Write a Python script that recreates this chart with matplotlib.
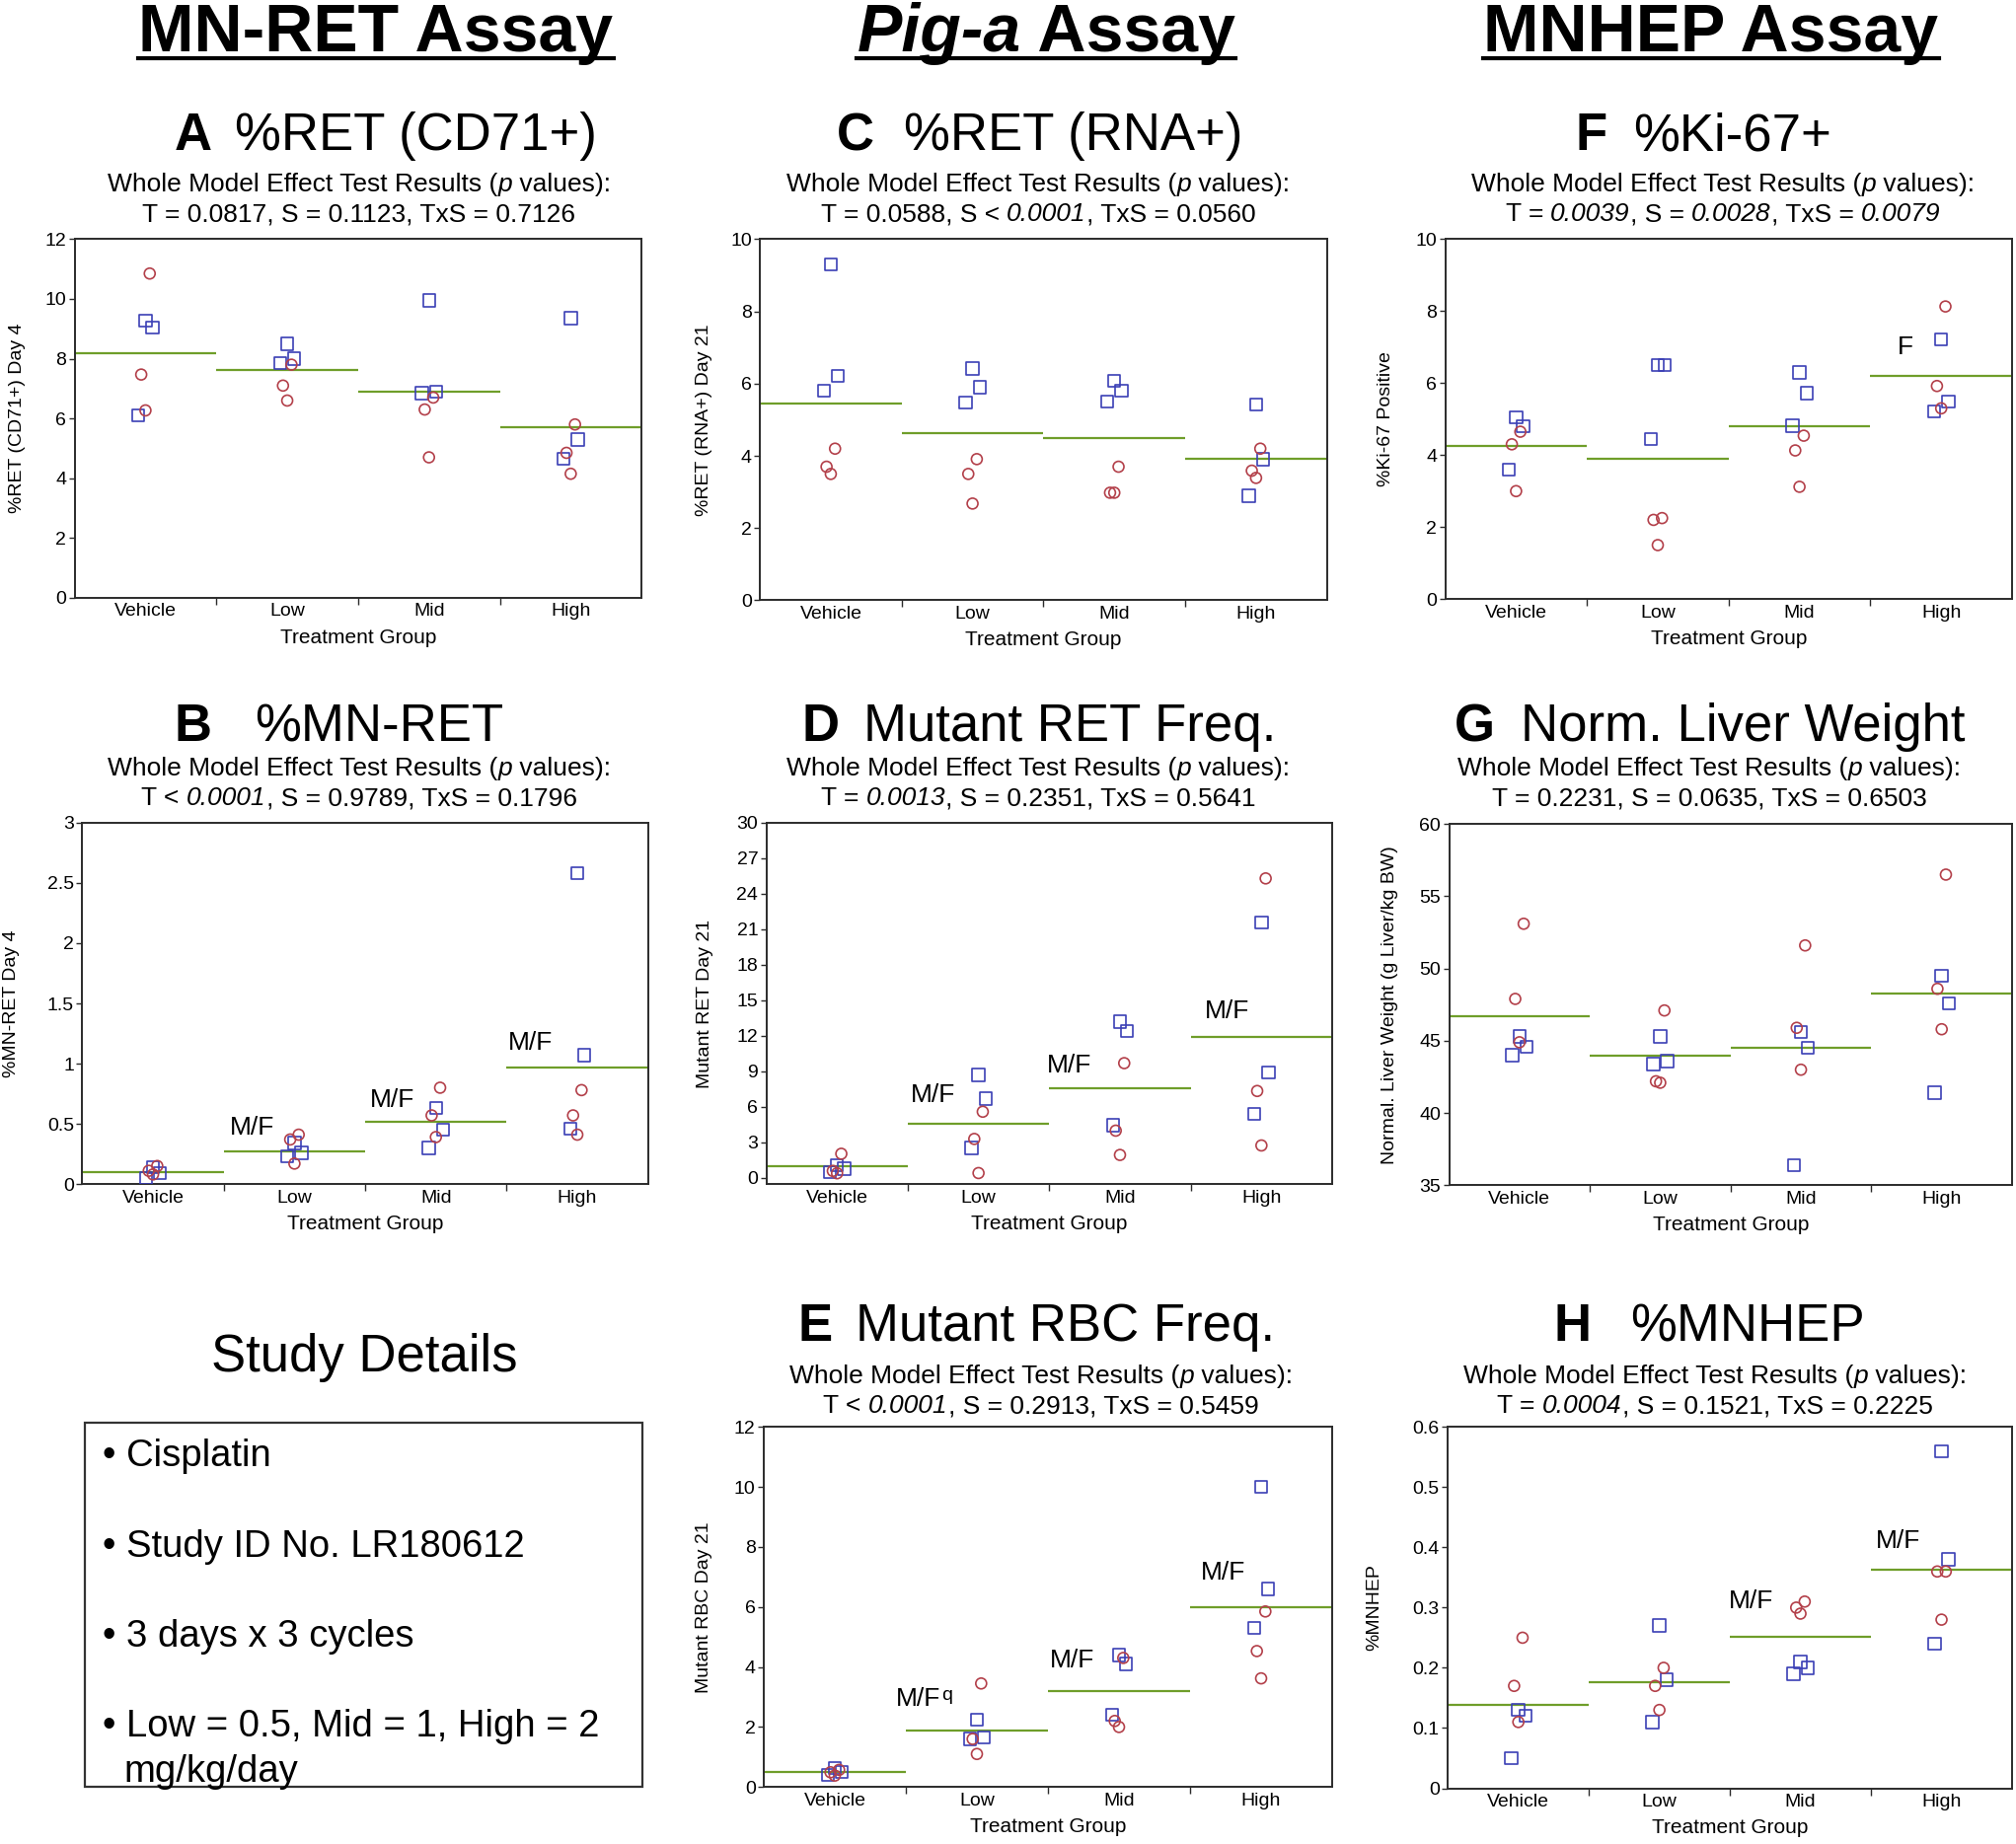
import matplotlib
matplotlib.use('Agg')
import matplotlib.pyplot as plt
from matplotlib.transforms import IdentityTransform
from matplotlib.lines import Line2D
from matplotlib.patches import Rectangle
from matplotlib.ticker import FuncFormatter

plt.rcParams['font.family'] = ['Liberation Sans', 'DejaVu Sans']

W, H, DPI = 2043, 1869, 100

groups = ['Vehicle', 'Low', 'Mid', 'High']

# ---------------- data (males = squares, females = circles, green = group mean)
a_male = [[9.27, 9.05, 6.10], [8.50, 8.00, 7.85], [9.95, 6.90, 6.85], [9.35, 5.30, 4.65]]
a_female = [[10.85, 7.47, 6.27], [7.80, 7.10, 6.60], [6.70, 6.30, 4.70], [5.80, 4.85, 4.15]]
a_mean = [8.18, 7.62, 6.90, 5.71]

b_male = [[0.14, 0.09, 0.05], [0.34, 0.26, 0.23], [0.63, 0.45, 0.30], [2.58, 1.07, 0.46]]
b_female = [[0.15, 0.11, 0.08], [0.41, 0.37, 0.17], [0.80, 0.57, 0.39], [0.78, 0.57, 0.41]]
b_mean = [0.10, 0.275, 0.52, 0.97]

c_male = [[9.30, 6.22, 5.80], [6.42, 5.90, 5.47], [6.07, 5.80, 5.50], [5.42, 3.91, 2.90]]
c_female = [[4.20, 3.70, 3.50], [3.91, 3.50, 2.68], [3.70, 2.98, 2.98], [4.20, 3.59, 3.39]]
c_mean = [5.46, 4.64, 4.50, 3.91]

d_male = [[1.1, 0.8, 0.5], [8.7, 6.7, 2.55], [13.2, 12.4, 4.45], [21.6, 8.9, 5.4]]
d_female = [[2.05, 0.6, 0.4], [5.6, 3.3, 0.42], [9.7, 4.0, 1.95], [25.3, 7.35, 2.75]]
d_mean = [1.03, 4.55, 7.6, 11.9]

e_male = [[0.63, 0.50, 0.40], [2.25, 1.65, 1.60], [4.40, 4.10, 2.40], [10.0, 6.60, 5.30]]
e_female = [[0.57, 0.49, 0.38], [3.45, 1.60, 1.10], [4.30, 2.20, 2.00], [5.85, 4.53, 3.62]]
e_mean = [0.51, 1.88, 3.20, 6.00]

f_male = [[5.05, 4.80, 3.60], [6.50, 6.50, 4.45], [6.30, 5.72, 4.82], [7.22, 5.49, 5.22]]
f_female = [[4.65, 4.30, 3.00], [2.25, 2.20, 1.50], [4.54, 4.13, 3.12], [8.13, 5.92, 5.30]]
f_mean = [4.25, 3.89, 4.79, 6.20]

g_male = [[45.3, 44.6, 44.0], [45.3, 43.6, 43.4], [45.6, 44.5, 36.4], [49.5, 47.6, 41.4]]
g_female = [[53.1, 47.9, 44.9], [47.1, 42.2, 42.1], [51.6, 45.9, 43.0], [56.5, 48.6, 45.8]]
g_mean = [46.7, 43.95, 44.5, 48.27]

h_male = [[0.13, 0.12, 0.05], [0.27, 0.18, 0.11], [0.21, 0.20, 0.19], [0.56, 0.38, 0.24]]
h_female = [[0.25, 0.17, 0.11], [0.20, 0.17, 0.13], [0.31, 0.30, 0.29], [0.36, 0.36, 0.28]]
h_mean = [0.139, 0.176, 0.251, 0.363]

# ---------------- styling
RED = '#b3404a'
BLUE = '#3b3fb5'
GREEN = '#6f9e2a'
SPINE = '#2b2b2b'
JIT_M = [0.0, 0.05, -0.05]
JIT_F = [0.03, -0.03, 0.0]

fig = plt.figure(figsize=(W / DPI, H / DPI), dpi=DPI)
fig.patch.set_facecolor('white')
renderer = fig.canvas.get_renderer()
PX = IdentityTransform()


def seg_width(s, size, style, weight):
    t = fig.text(0, 0, s + '|', fontsize=size, style=style, weight=weight, transform=PX)
    w1 = t.get_window_extent(renderer).width
    t.set_text('|')
    w2 = t.get_window_extent(renderer).width
    t.remove()
    return w1 - w2


def rich(xc, ybase, segs, size):
    widths = [seg_width(s, size, st, wt) for s, st, wt in segs]
    total = sum(widths)
    x = xc - total / 2
    x0 = x
    for (s, st, wt), w in zip(segs, widths):
        fig.text(x, H - ybase, s, fontsize=size, style=st, weight=wt,
                 transform=PX, ha='left', va='baseline')
        x += w
    return x0, total


N, I, B = 'normal', 'italic', 'bold'

# ---------------- headers
for xc, segs in [(381, [('MN-RET Assay', N, B)]),
                 (1060, [('Pig-a', I, B), (' Assay', N, B)]),
                 (1734, [('MNHEP Assay', N, B)])]:
    x0, tot = rich(xc, 52, segs, 49)
    fig.add_artist(Line2D([x0, x0 + tot], [H - 59, H - 59], transform=PX,
                          color='black', lw=3))


def title(letter, rest, xr, xl, ybase):
    fig.text(xr, H - ybase, letter, fontsize=38, weight='bold', ha='right',
             va='baseline', transform=PX)
    fig.text(xl, H - ybase, rest, fontsize=38, ha='left', va='baseline', transform=PX)


SUB1 = [('Whole Model Effect Test Results (', N, N), ('p', I, N), (' values):', N, N)]


def subtitle(xc, y1, line2):
    rich(xc, y1, SUB1, 19)
    rich(xc, y1 + 30, line2, 19)


title('A', '%RET (CD71+)', 215, 238, 152)
title('C', '%RET (RNA+)', 886, 916, 152)
title('F', '%Ki-67+', 1629, 1655, 152)
title('B', '%MN-RET', 215, 258, 751)
title('D', 'Mutant RET Freq.', 850, 875, 751)
title('G', 'Norm. Liver Weight', 1515, 1541, 751)
title('E', 'Mutant RBC Freq.', 844, 867, 1359)
title('H', '%MNHEP', 1613, 1652, 1359)

subtitle(364, 194, [('T = 0.0817, S = 0.1123, TxS = 0.7126', N, N)])
subtitle(1052, 194, [('T = 0.0588, S < ', N, N), ('0.0001', I, N), (', TxS = 0.0560', N, N)])
subtitle(1746, 194, [('T = ', N, N), ('0.0039', I, N), (', S = ', N, N), ('0.0028', I, N),
                     (', TxS = ', N, N), ('0.0079', I, N)])
subtitle(364, 786, [('T < ', N, N), ('0.0001', I, N), (', S = 0.9789, TxS = 0.1796', N, N)])
subtitle(1052, 786, [('T = ', N, N), ('0.0013', I, N), (', S = 0.2351, TxS = 0.5641', N, N)])
subtitle(1732, 786, [('T = 0.2231, S = 0.0635, TxS = 0.6503', N, N)])
subtitle(1055, 1402, [('T < ', N, N), ('0.0001', I, N), (', S = 0.2913, TxS = 0.5459', N, N)])
subtitle(1738, 1402, [('T = ', N, N), ('0.0004', I, N), (', S = 0.1521, TxS = 0.2225', N, N)])

# ---------------- panels
panels = [
    dict(box=(75.6, 242.4, 650.2, 605.9), male=a_male, female=a_female, mean=a_mean,
         ylim=(0, 12), yticks=[0, 2, 4, 6, 8, 10, 12], ylabel='%RET (CD71+) Day 4', ylx=-0.086,
         notes=[]),
    dict(box=(83.4, 833.9, 656.7, 1200.1), male=b_male, female=b_female, mean=b_mean,
         ylim=(0, 3), yticks=[0, 0.5, 1, 1.5, 2, 2.5, 3], ylabel='%MN-RET Day 4', ylx=-0.11,
         notes=[(0.70, 0.47, 'M/F'), (1.69, 0.70, 'M/F'), (2.67, 1.17, 'M/F')]),
    dict(box=(770.1, 242.4, 1344.7, 608.5), male=c_male, female=c_female, mean=c_mean,
         ylim=(0, 10), yticks=[0, 2, 4, 6, 8, 10], ylabel='%RET (RNA+) Day 21', ylx=-0.084,
         notes=[]),
    dict(box=(776.6, 833.9, 1350, 1200.0), male=d_male, female=d_female, mean=d_mean,
         ylim=(-0.5, 30), yticks=list(range(0, 31, 3)), ylabel='Mutant RET Day 21', ylx=-0.094,
         notes=[(0.68, 7.0, 'M/F'), (1.64, 9.5, 'M/F'), (2.76, 14.1, 'M/F')]),
    dict(box=(774, 1446.3, 1350, 1811.2), male=e_male, female=e_female, mean=e_mean,
         ylim=(0, 12), yticks=[0, 2, 4, 6, 8, 10, 12], ylabel='Mutant RBC Day 21', ylx=-0.09,
         notes=[(0.59, 2.92, 'M/F'), (1.67, 4.2, 'M/F'), (2.73, 7.15, 'M/F')], q=(0.59, 2.92)),
    dict(box=(1464.6, 242.4, 2039, 607.2), male=f_male, female=f_female, mean=f_mean,
         ylim=(0, 10), yticks=[0, 2, 4, 6, 8, 10], ylabel='%Ki-67 Positive', ylx=-0.09,
         notes=[(2.75, 7.0, 'F')]),
    dict(box=(1468.5, 835.2, 2039, 1201.4), male=g_male, female=g_female, mean=g_mean,
         ylim=(35, 60), yticks=[35, 40, 45, 50, 55, 60],
         ylabel='Normal. Liver Weight (g Liver/kg BW)', ylx=-0.09, notes=[]),
    dict(box=(1467.2, 1446.3, 2039, 1812.5), male=h_male, female=h_female, mean=h_mean,
         ylim=(0, 0.6), yticks=[0, 0.1, 0.2, 0.3, 0.4, 0.5, 0.6], ylabel='%MNHEP', ylx=-0.116,
         notes=[(1.65, 0.31, 'M/F'), (2.69, 0.41, 'M/F')]),
]

fmt = FuncFormatter(lambda v, p: f'{v:g}')

for p in panels:
    L, T, R, Bt = p['box']
    ax = fig.add_axes([L / W, 1 - Bt / H, (R - L) / W, (Bt - T) / H])
    ax.set_xlim(-0.5, 3.5)
    ax.set_ylim(*p['ylim'])
    for i in range(4):
        ax.hlines(p['mean'][i], i - 0.5, i + 0.5, color=GREEN, lw=1.6, zorder=2)
        ym = p['male'][i]
        yf = p['female'][i]
        ax.scatter([i + JIT_M[k % 3] for k in range(len(ym))], ym, marker='s', s=80,
                   facecolors='none', edgecolors=BLUE, linewidths=1.2, zorder=3)
        ax.scatter([i + JIT_F[k % 3] for k in range(len(yf))], yf, marker='o', s=62,
                   facecolors='none', edgecolors=RED, linewidths=1.2, zorder=3)
    for x, y, s in p['notes']:
        ax.text(x, y, s, fontsize=19, ha='center', va='center', zorder=4)
    if 'q' in p:
        ax.annotate('q', xy=p['q'], xytext=(17, 3), textcoords='offset points',
                    fontsize=14, ha='left', va='center')
    ax.set_xticks(range(4))
    ax.set_xticklabels(groups, fontsize=14)
    ax.set_xticks([0.5, 1.5, 2.5], minor=True)
    ax.tick_params(axis='x', which='major', length=0, pad=4)
    ax.tick_params(axis='x', which='minor', length=5, width=1, direction='out', color=SPINE)
    ax.set_yticks(p['yticks'])
    ax.yaxis.set_major_formatter(fmt)
    ax.tick_params(axis='y', length=4, width=1, pad=2, labelsize=14, color=SPINE)
    ax.set_xlabel('Treatment Group', fontsize=15, labelpad=6)
    ax.set_ylabel(p['ylabel'], fontsize=14)
    ax.yaxis.set_label_coords(p['ylx'], 0.5)
    for sp in ax.spines.values():
        sp.set_color(SPINE)
        sp.set_linewidth(1.4)

# ---------------- study details
fig.text(369, H - 1390, 'Study Details', fontsize=38, ha='center', va='baseline', transform=PX)
fig.add_artist(Rectangle((86, H - 1811), 651 - 86, 1811 - 1442, transform=PX,
                         fill=False, edgecolor='#333333', lw=1.6))
details = ['\u2022 Cisplatin', '\u2022 Study ID No. LR180612', '\u2022 3 days x 3 cycles',
           '\u2022 Low = 0.5, Mid = 1, High = 2']
for txt, yb in zip(details, [1486, 1578, 1669, 1760]):
    fig.text(104, H - yb, txt, fontsize=27.5, ha='left', va='baseline', transform=PX)
fig.text(125, H - 1806, 'mg/kg/day', fontsize=27.5, ha='left', va='baseline', transform=PX)

fig.savefig('out.png', dpi=DPI, facecolor='white')
